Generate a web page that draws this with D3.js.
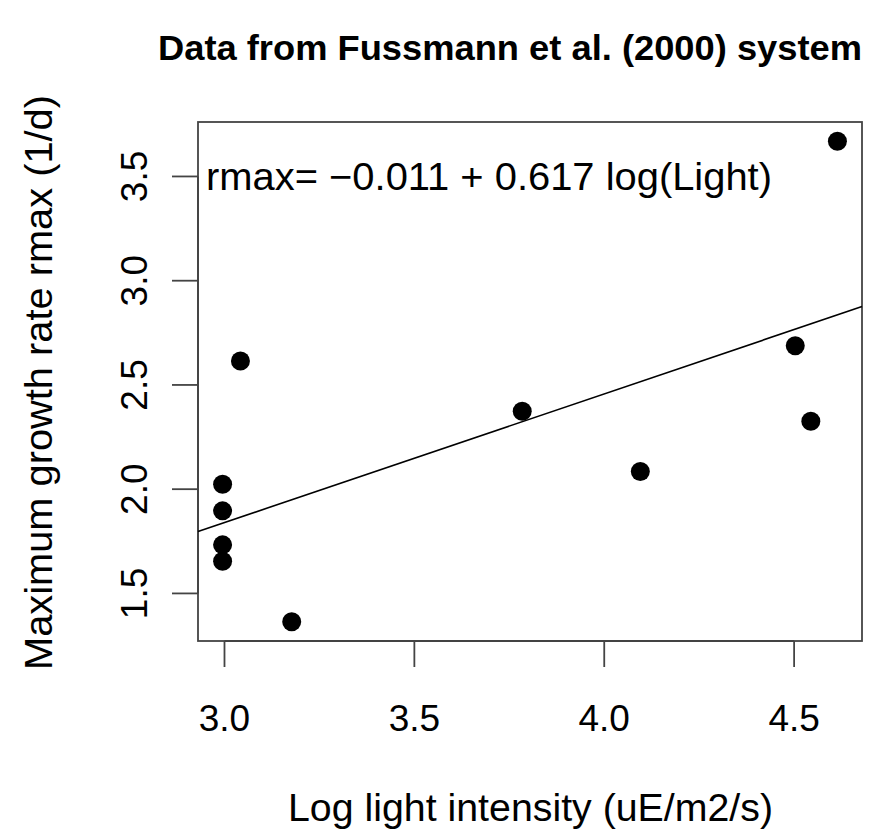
<!DOCTYPE html>
<html>
<head>
<meta charset="utf-8">
<script src="https://cdn.jsdelivr.net/npm/d3@7"></script>
<style>
  body { margin: 0; background: #fff; }
  svg { display: block; }
  text { font-family: "Liberation Sans", Arial, Helvetica, sans-serif; fill: #000; }
</style>
</head>
<body>
<script>
// data: log light intensity vs max growth rate
var logLight = [2.995, 2.995, 2.995, 2.995, 3.042, 3.177, 3.784, 4.095, 4.503, 4.544, 4.614];
var rmax = [2.024, 1.896, 1.733, 1.654, 2.615, 1.364, 2.374, 2.085, 2.688, 2.326, 3.669];

// fitted line coefficients (as printed on the chart)
var intercept = -0.011, slope = 0.617;

var xTicks = [3.0, 3.5, 4.0, 4.5];
var yTicks = [1.5, 2.0, 2.5, 3.0, 3.5];

var width = 878, height = 833;
var box = { left: 198, right: 862, top: 122, bottom: 641 };

// R style axis range: data range padded by 4% on each side
function pad(ext) {
    var d = (ext[1] - ext[0]) * 0.04;
    return [ext[0] - d, ext[1] + d];
}

var x = d3.scaleLinear().domain(pad(d3.extent(logLight))).range([box.left, box.right]);
var y = d3.scaleLinear().domain(pad(d3.extent(rmax))).range([box.bottom, box.top]);

var svg = d3.select("body").append("svg")
    .attr("width", width)
    .attr("height", height);

var axisColor = "#444", tickLen = 26, tickFont = 37;

// x axis (bottom)
var xAxis = svg.append("g").attr("class", "x axis");
xAxis.append("line")
    .attr("x1", x(xTicks[0])).attr("x2", x(xTicks[xTicks.length - 1]))
    .attr("y1", box.bottom).attr("y2", box.bottom)
    .attr("stroke", axisColor).attr("stroke-width", 1.8);
xAxis.selectAll("line.tick").data(xTicks).enter().append("line")
    .attr("class", "tick")
    .attr("x1", function (d) { return x(d); }).attr("x2", function (d) { return x(d); })
    .attr("y1", box.bottom).attr("y2", box.bottom + tickLen)
    .attr("stroke", axisColor).attr("stroke-width", 1.8);
xAxis.selectAll("text").data(xTicks).enter().append("text")
    .attr("x", function (d) { return x(d); })
    .attr("y", 731)
    .attr("text-anchor", "middle")
    .style("font-size", tickFont + "px")
    .text(function (d) { return d.toFixed(1); });

// y axis (left), labels rotated like R's default
var yAxis = svg.append("g").attr("class", "y axis");
yAxis.append("line")
    .attr("x1", box.left).attr("x2", box.left)
    .attr("y1", y(yTicks[0])).attr("y2", y(yTicks[yTicks.length - 1]))
    .attr("stroke", axisColor).attr("stroke-width", 1.8);
yAxis.selectAll("line.tick").data(yTicks).enter().append("line")
    .attr("class", "tick")
    .attr("x1", box.left - tickLen).attr("x2", box.left)
    .attr("y1", function (d) { return y(d); }).attr("y2", function (d) { return y(d); })
    .attr("stroke", axisColor).attr("stroke-width", 1.8);
yAxis.selectAll("text").data(yTicks).enter().append("text")
    .attr("transform", function (d) { return "translate(147," + y(d) + ") rotate(-90)"; })
    .attr("text-anchor", "middle")
    .style("font-size", tickFont + "px")
    .text(function (d) { return d.toFixed(1); });

// plot frame
svg.append("rect")
    .attr("x", box.left).attr("y", box.top)
    .attr("width", box.right - box.left).attr("height", box.bottom - box.top)
    .attr("fill", "none").attr("stroke", axisColor).attr("stroke-width", 1.8);

// regression line across the whole frame
var xd = x.domain();
svg.append("line")
    .attr("x1", x(xd[0])).attr("y1", y(intercept + slope * xd[0]))
    .attr("x2", x(xd[1])).attr("y2", y(intercept + slope * xd[1]))
    .attr("stroke", "#000").attr("stroke-width", 1.6);

// points
svg.selectAll("circle.pt").data(logLight).enter().append("circle")
    .attr("class", "pt")
    .attr("cx", function (d) { return x(d); })
    .attr("cy", function (d, i) { return y(rmax[i]); })
    .attr("r", 9.5)
    .attr("fill", "#000");

// equation text
svg.append("text")
    .attr("x", 206).attr("y", 190)
    .attr("textLength", 566).attr("lengthAdjust", "spacingAndGlyphs")
    .style("font-size", "38px")
    .text("rmax= \u22120.011 + 0.617 log(Light)");

// titles
svg.append("text")
    .attr("x", 158).attr("y", 60)
    .attr("textLength", 704).attr("lengthAdjust", "spacingAndGlyphs")
    .style("font-size", "35px").style("font-weight", "bold")
    .text("Data from Fussmann et al. (2000) system");

svg.append("text")
    .attr("x", 288).attr("y", 821)
    .attr("textLength", 485).attr("lengthAdjust", "spacingAndGlyphs")
    .style("font-size", "38px")
    .text("Log light intensity (uE/m2/s)");

svg.append("text")
    .attr("transform", "translate(52,670) rotate(-90)")
    .attr("textLength", 575).attr("lengthAdjust", "spacingAndGlyphs")
    .style("font-size", "39px")
    .text("Maximum growth rate rmax (1/d)");
</script>
</body>
</html>
